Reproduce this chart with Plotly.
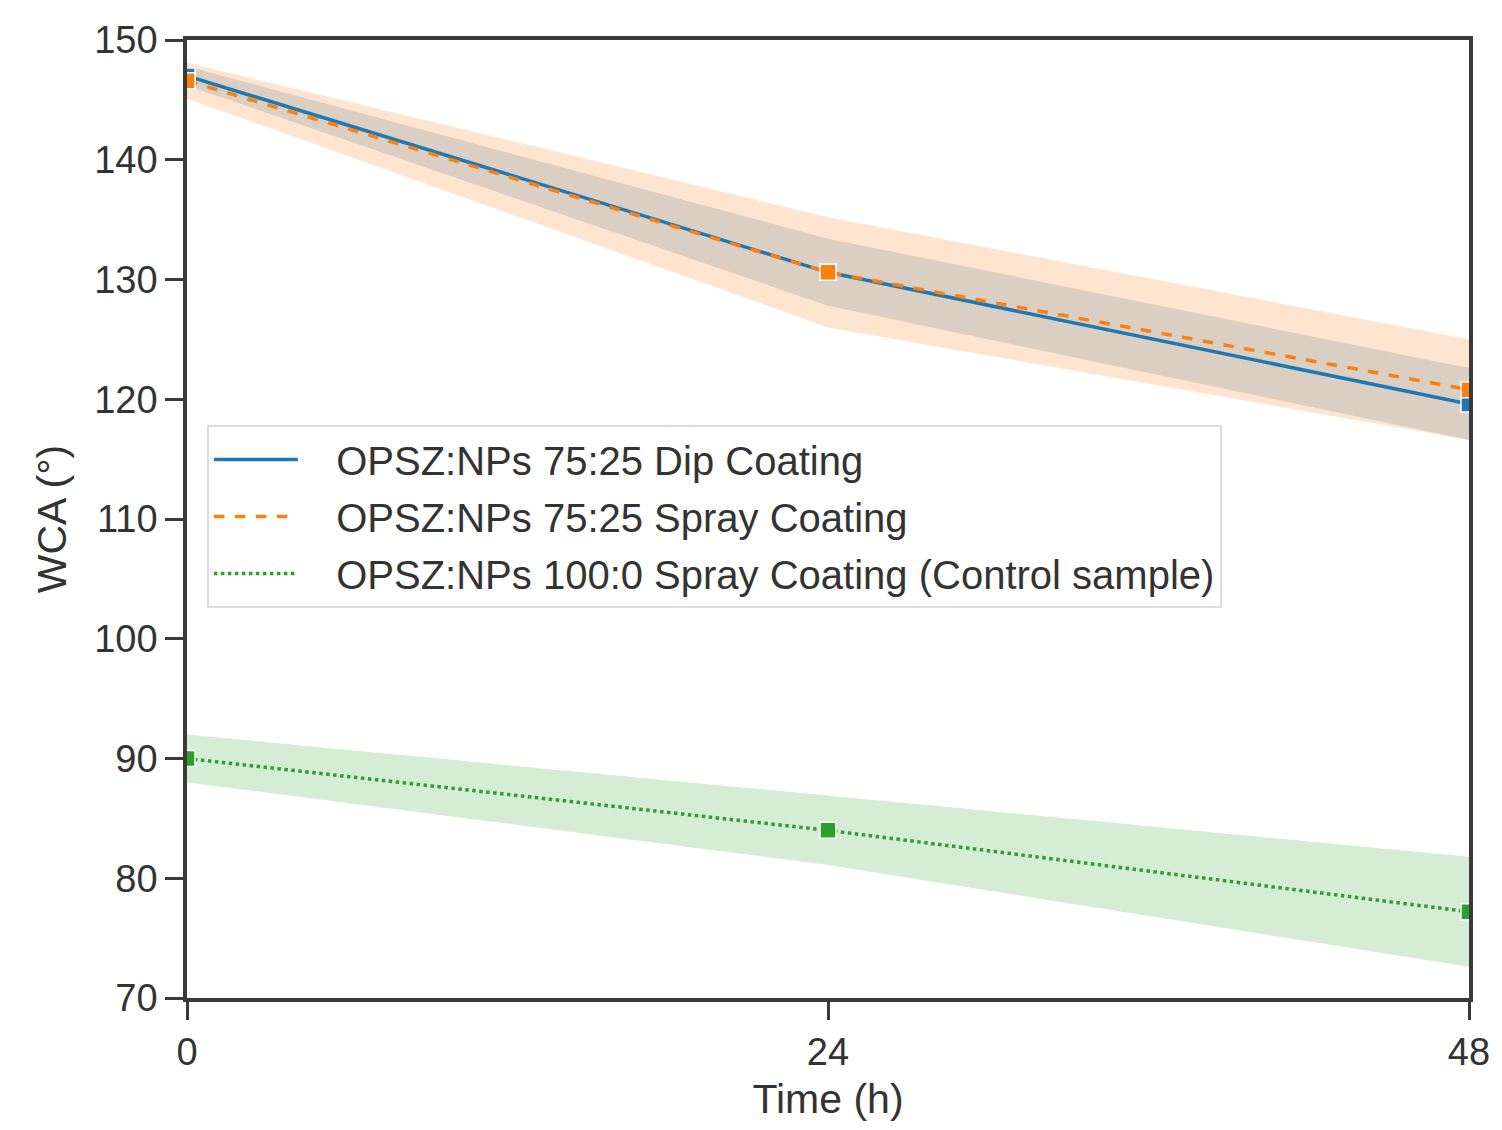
import plotly.graph_objects as go

time_h = [0, 24, 48]
dip_mean = [147.0, 130.6, 119.6]
dip_sd = [0.8, 2.8, 3.0]
spray_mean = [146.6, 130.6, 120.8]
spray_sd = [1.5, 4.6, 4.2]
control_mean = [90.0, 84.0, 77.2]
control_sd = [2.0, 2.9, 4.6]

names = ["OPSZ:NPs 75:25 Dip Coating",
         "OPSZ:NPs 75:25 Spray Coating",
         "OPSZ:NPs 100:0 Spray Coating (Control sample)"]
colors = ["#1f77b4", "#ff7f0e", "#2ca02c"]
bands = ["rgba(31,119,180,0.2)", "rgba(255,127,14,0.2)", "rgba(44,160,44,0.2)"]
dashes = ["solid", "dash", "dot"]
means = [dip_mean, spray_mean, control_mean]
sds = [dip_sd, spray_sd, control_sd]

fig = go.Figure()
for m, s, bc in zip(means, sds, bands):
    upper = [a + b for a, b in zip(m, s)]
    lower = [a - b for a, b in zip(m, s)]
    fig.add_trace(go.Scatter(
        x=time_h + time_h[::-1], y=upper + lower[::-1],
        fill="toself", fillcolor=bc, line=dict(width=0),
        mode="lines", showlegend=False, hoverinfo="skip"))

for n, m, c, d in zip(names, means, colors, dashes):
    fig.add_trace(go.Scatter(
        x=time_h, y=m, name=n, mode="lines+markers", showlegend=False,
        line=dict(color=c, width=3.5, dash=d),
        marker=dict(symbol="square", size=16, color=c,
                    line=dict(color="white", width=1.5))))

# legend entries (line samples only)
for i, (n, c, d) in enumerate(zip(names, colors, dashes)):
    fig.add_trace(go.Scatter(
        x=[None], y=[None], name="\u00a0\u00a0\u00a0" + n, mode="lines",
        legendgroup="g%d" % i,
        line=dict(color=c, width=3.5, dash=d)))

axis_common = dict(showline=True, linecolor="#3a3a3a", linewidth=3.5,
                   mirror=True, ticks="outside", ticklen=18, tickwidth=3,
                   tickcolor="#3a3a3a", showgrid=False, zeroline=False,
                   tickfont=dict(size=38, color="#333"),
                   title_font=dict(size=41, color="#333"))

fig.update_xaxes(range=[0, 48], tickvals=time_h, ticktext=["0", "24", "48"],
                 title_text="Time (h)", title_standoff=13,
                 ticklabeloverflow="allow", **axis_common)
fig.update_yaxes(range=[70, 150], tickvals=list(range(70, 151, 10)),
                 title_text="WCA (°)", title_standoff=16, **axis_common)

fig.update_layout(
    width=1502, height=1130,
    margin=dict(l=187, r=24, t=40, b=132),
    plot_bgcolor="white", paper_bgcolor="white",
    font=dict(family="Liberation Sans, Arial, sans-serif", color="#333"),
    legend=dict(x=0.0155, y=0.598, xanchor="left", yanchor="top",
                bgcolor="rgba(255,255,255,0.85)", bordercolor="#dddddd",
                borderwidth=2, font=dict(size=40, color="#333"),
                itemwidth=84, tracegroupgap=2),
)

fig.write_html(
    "out.html", config={"displayModeBar": False},
    post_script=("document.documentElement.style.overflow='hidden';"
                 "document.body.style.margin='0';"
                 "document.body.style.overflow='hidden';"
                 "document.querySelectorAll('.plotly-graph-div').forEach("
                 "function(d){d.style.overflow='hidden';});"))
